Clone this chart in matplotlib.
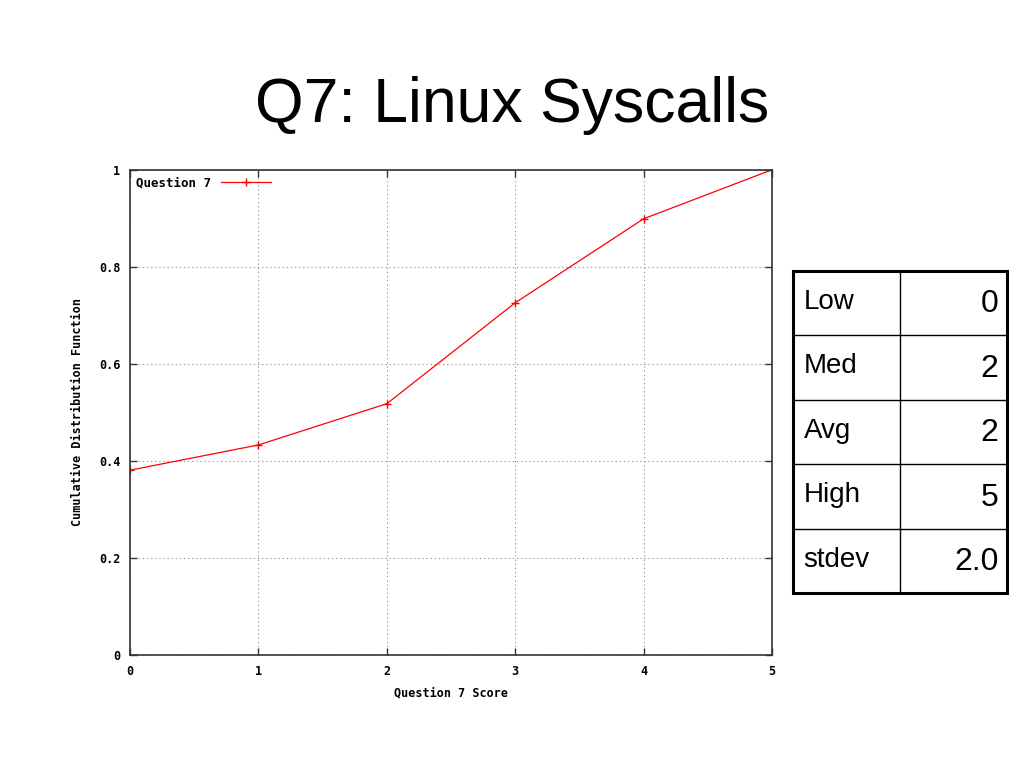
import matplotlib
matplotlib.use("Agg")
import matplotlib.pyplot as plt
from matplotlib.patches import Rectangle

# ====================================================
scores = [0, 1, 2, 3, 4, 5]
cdf = [0.381, 0.433, 0.518, 0.726, 0.899, 1.0]
x_ticks = [0, 1, 2, 3, 4, 5]
y_ticks = [0, 0.2, 0.4, 0.6, 0.8, 1]
y_tick_labels = ['0', '0.2', '0.4', '0.6', '0.8', '1']
stat_names = ['Low', 'Med', 'Avg', 'High', 'stdev']
stat_values = ['0', '2', '2', '5', '2.0']

# ====================================================
def main():
	fig = plt.figure(figsize=(10.24, 7.68), dpi=100)
	fig.text(0.5, 0.862, 'Q7: Linux Syscalls', ha='center', va='center',
		fontsize=45, family='Liberation Sans')

	mono = dict(family='DejaVu Sans Mono', fontweight='bold', fontsize=8.5)

	ax = fig.add_axes([0.127, 0.147, 0.627, 0.632])
	ax.plot(scores, cdf, color='red', lw=0.9, marker='+', ms=6, mew=1,
		label='Question 7')
	ax.set_xlim(0, 5)
	ax.set_ylim(0, 1)
	ax.set_xticks(x_ticks)
	ax.set_xticklabels([str(t) for t in x_ticks], **mono)
	ax.set_yticks(y_ticks)
	ax.set_yticklabels(y_tick_labels, **mono)
	ax.tick_params(direction='in', length=5, width=1, top=True, right=True,
		pad=7, colors='#333333', labelcolor='black')
	ax.grid(True, linestyle=(0, (1.2, 2.5)), color='#999999', lw=0.8)
	for s in ax.spines.values():
		s.set_linewidth(1.2)
		s.set_color('#333333')
	ax.set_xlabel('Question 7 Score', labelpad=6, **mono)
	ax.set_ylabel('Cumulative Distribution Function', labelpad=11, **mono)
	ax.legend(loc='upper left', frameon=False, prop=dict(family='DejaVu Sans Mono',
		weight='bold', size=9), markerfirst=False, handlelength=4.0,
		borderaxespad=0.1)

	# stats table
	tx = fig.add_axes([793 / 1024, 1 - 593 / 768, 214 / 1024, 322 / 768])
	tx.set_axis_off()
	tx.set_xlim(0, 1)
	tx.set_ylim(0, len(stat_names))
	split = (900 - 793) / 214
	n = len(stat_names)
	for i, (name, val) in enumerate(zip(stat_names, stat_values)):
		yc = n - i - 0.5
		tx.text(0.05, yc + 0.02, name, ha='left', va='center', fontsize=20,
			family='Liberation Sans')
		tx.text(0.96, yc - 0.02, val, ha='right', va='center', fontsize=23,
			family='Liberation Sans')
		if i > 0:
			tx.plot([0, 1], [n - i, n - i], color='black', lw=1)
	tx.plot([split, split], [0, n], color='black', lw=1)
	tx.add_patch(Rectangle((0, 0), 1, n, fill=False, lw=2.2, ec='black', clip_on=False))

	fig.savefig('out.png', dpi=100)

# ====================================================
if __name__ == "__main__":
	main()
